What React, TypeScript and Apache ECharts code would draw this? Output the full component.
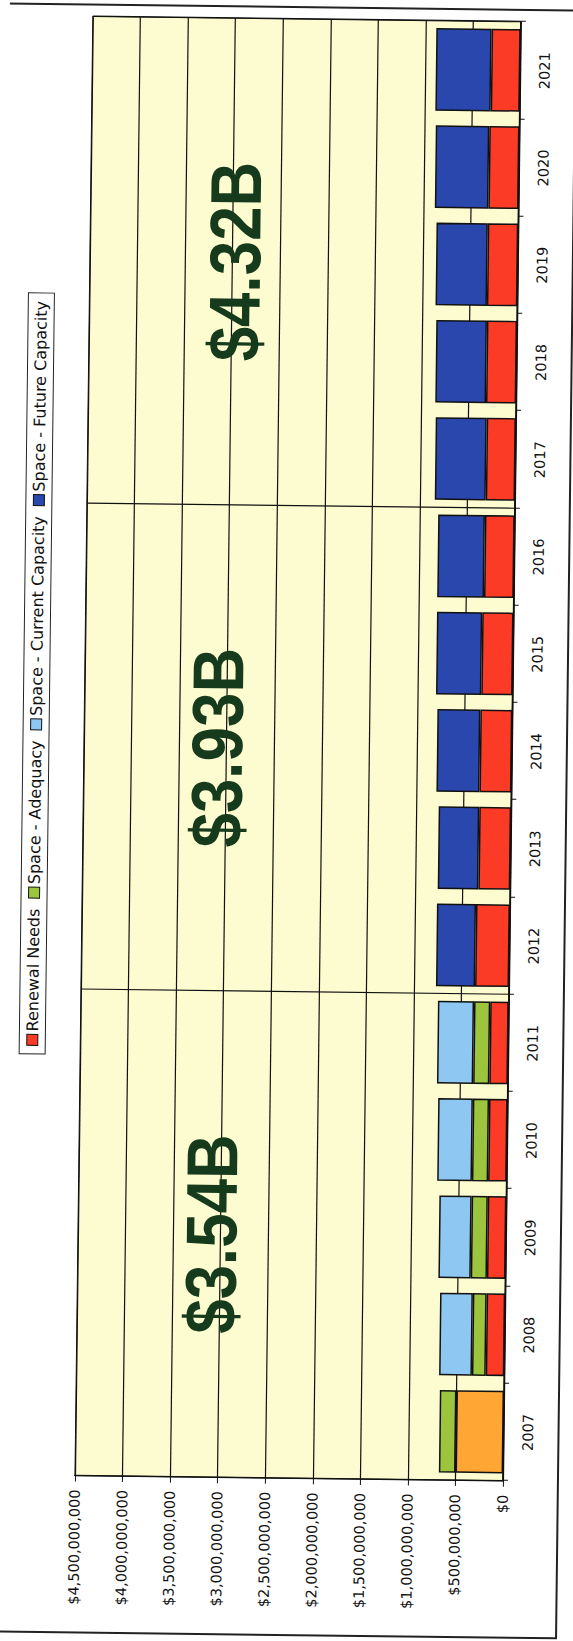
import React, { useEffect, useRef } from 'react';
import * as echarts from 'echarts';

// ---- data (values in millions of dollars) ----
const years = ['2007', '2008', '2009', '2010', '2011', '2012', '2013', '2014', '2015', '2016', '2017', '2018', '2019', '2020', '2021'];
const renewalNeeds = [500, 195, 195, 195, 195, 357, 335, 336, 329, 313, 307, 317, 320, 317, 305];
const spaceAdequacy = [175, 145, 170, 170, 170, null, null, null, null, null, null, null, null, null, null];
const spaceCurrent = [null, 345, 340, 365, 380, null, null, null, null, null, null, null, null, null, null];
const spaceFuture = [null, null, null, null, null, 411, 427, 452, 476, 492, 536, 533, 540, 563, 582];
const seriesNames = ['Renewal Needs', 'Space - Adequacy', 'Space - Current Capacity', 'Space - Future Capacity'];
const periodLabels = ['$3.54B', '$3.93B', '$4.32B'];
const periodMidYears = ['2009', '2014', '2019'];
const periodLabelLevels = [3100, 3100, 2975];
const axisMax = 4500;
const axisStep = 500;

const RED = '#fb3b26';
const GREEN = '#9cc43c';
const LIGHTBLUE = '#8ec8f2';
const BLUE = '#2a47ae';
const ORANGE = '#ffa634';
const INK = '#111';

const W = 1641;
const H = 573;
const FONT = '"DejaVu Sans", Verdana, sans-serif';

export default function App() {
  const ref = useRef<HTMLDivElement>(null);
  useEffect(() => {
    const chart = echarts.init(ref.current!, null, { renderer: 'svg' });
    const barItem = { borderColor: INK, borderWidth: 1.5 };
    const option: any = {
      animation: false,
      backgroundColor: '#ffffff',
      legend: {
        data: seriesNames,
        left: 584,
        top: 22,
        orient: 'horizontal',
        padding: [5, 8],
        borderColor: '#222',
        borderWidth: 1,
        backgroundColor: '#ffffff',
        itemWidth: 11,
        itemHeight: 11,
        itemGap: 10,
        icon: 'rect',
        itemStyle: { borderColor: INK, borderWidth: 1 },
        textStyle: { fontSize: 16, fontFamily: FONT, color: INK, padding: [0, 0, 0, -2] },
      },
      grid: {
        left: 163,
        right: 19,
        top: 83,
        bottom: 62,
        show: true,
        backgroundColor: '#fdfbd0',
        borderColor: INK,
        borderWidth: 1,
      },
      xAxis: {
        type: 'category',
        data: years,
        axisLine: { show: true, lineStyle: { color: INK, width: 1.5 } },
        axisTick: { show: true, length: 5, lineStyle: { color: INK, width: 1 } },
        axisLabel: { fontSize: 14.5, color: INK, fontFamily: FONT, margin: 17 },
        splitLine: {
          show: true,
          interval: (i: number) => i === 5 || i === 10,
          lineStyle: { color: INK, width: 1.2 },
        },
      },
      yAxis: {
        type: 'value',
        min: 0,
        max: axisMax,
        interval: axisStep,
        axisLine: { show: true, lineStyle: { color: INK, width: 1.5 } },
        axisTick: { show: true, length: 6, lineStyle: { color: INK, width: 1 } },
        axisLabel: {
          fontSize: 14.5,
          color: INK,
          fontFamily: FONT,
          margin: 14,
          formatter: (v: number) => '$' + Math.round(v * 1e6).toLocaleString('en-US'),
        },
        splitLine: { show: true, lineStyle: { color: INK, width: 1.2 } },
      },
      series: [
        {
          name: seriesNames[0],
          type: 'bar',
          stack: 'total',
          barCategoryGap: '15%',
          itemStyle: { ...barItem, color: RED },
          data: renewalNeeds.map((v, i) => (i === 0 ? { value: v, itemStyle: { color: ORANGE } } : v)),
        },
        { name: seriesNames[1], type: 'bar', stack: 'total', barCategoryGap: '15%', itemStyle: { ...barItem, color: GREEN }, data: spaceAdequacy },
        { name: seriesNames[2], type: 'bar', stack: 'total', barCategoryGap: '15%', itemStyle: { ...barItem, color: LIGHTBLUE }, data: spaceCurrent },
        { name: seriesNames[3], type: 'bar', stack: 'total', barCategoryGap: '15%', itemStyle: { ...barItem, color: BLUE }, data: spaceFuture },
      ],
    };
    chart.setOption(option);

    const texts = periodLabels.map((t, i) => {
      const p = chart.convertToPixel({ gridIndex: 0 }, [periodMidYears[i], periodLabelLevels[i]]) as number[];
      return {
        type: 'text',
        x: p[0],
        y: p[1],
        scaleX: 0.86,
        z: 10,
        style: {
          text: t,
          x: 0,
          y: 0,
          align: 'center',
          verticalAlign: 'middle',
          textAlign: 'center',
          textVerticalAlign: 'middle',
          fill: '#163a1c',
          fontSize: 72,
          fontWeight: 'bold',
          fontFamily: '"Liberation Sans", Arial, sans-serif',
        },
      };
    });
    chart.setOption({
      graphic: [
        {
          type: 'rect',
          shape: { x: 6, y: -10, width: 1628, height: 576 },
          style: { fill: 'none', stroke: '#222', lineWidth: 2 },
          z: 20,
        },
        ...texts,
      ],
    });
    return () => chart.dispose();
  }, []);

  return (
    <div style={{ position: 'fixed', left: 0, top: 0, width: 573, height: 1641, overflow: 'hidden', background: '#ffffff' }}>
      <div style={{ position: 'absolute', left: 0, top: 0, width: 573, height: 1641, transform: 'rotate(0.7deg)', transformOrigin: '50% 50%' }}>
        <div
          ref={ref}
          style={{
            position: 'absolute',
            left: 0,
            top: 0,
            width: W,
            height: H,
            transformOrigin: '0 0',
            transform: `translate(0px, ${W}px) rotate(-90deg)`,
          }}
        />
      </div>
    </div>
  );
}
